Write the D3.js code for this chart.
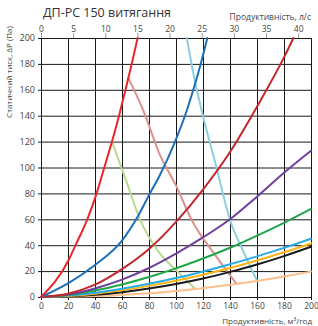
<!DOCTYPE html>
<html>
<head>
<meta charset="utf-8">
<script src="https://cdn.jsdelivr.net/npm/d3@7"></script>
<style>
  body { margin: 0; background: #fff; }
  text { font-family: "Open Sans", "Noto Sans", sans-serif; fill: #333; }
</style>
</head>
<body>
<svg width="318" height="326"></svg>
<script>
// flow in m³/h, pressure in Pa
const xTicks = [0, 20, 40, 60, 80, 100, 120, 140, 160, 180, 200]
const yTicks = [0, 20, 40, 60, 80, 100, 120, 140, 160, 180, 200]
const topTicks = [0, 5, 10, 15, 20, 25, 30, 35, 40]

// system curves
const redLine = [[0, 0], [20.5, 28.6], [25.6, 40], [34.3, 60], [41.2, 80], [46.9, 100], [52.6, 120], [57.8, 140], [62.6, 160], [67.2, 180], [71.6, 200]]
const blueLine = [[0, 0], [20, 10.5], [40, 24.7], [60, 43.5], [70.5, 60], [80.7, 80], [88, 94], [99.3, 120], [108, 144], [112.8, 160], [118.3, 180], [123.2, 200]]
const darkRedLine = [[0, 0], [20, 2.5], [40, 9.5], [60, 21.5], [80, 37], [100, 58], [120, 83], [140, 112], [160, 147], [180, 185], [187, 200]]
const purpleLine = [[0, 0], [20, 1.9], [40, 6.6], [60, 13.4], [80, 22.4], [100, 33.5], [120, 46], [140, 60], [160, 77.5], [180, 96], [200, 113]]
const greenLine = [[0, 0], [20, 1.6], [40, 5], [60, 9.7], [80, 15.4], [100, 22.1], [120, 29.7], [140, 38], [160, 47.4], [180, 57.3], [200, 68]]
const cyanLine = [[0, 0], [20, 1.1], [40, 3.3], [60, 6.4], [80, 10.2], [100, 14.6], [120, 19.7], [140, 25.3], [160, 31.4], [180, 37.9], [200, 45]]
const yellowLine = [[0, 0], [20, 0.8], [40, 2.6], [60, 5.2], [80, 8.6], [100, 12.6], [120, 17.2], [140, 22.4], [160, 28.2], [180, 34.5], [200, 41.4]]
const blackLine = [[0, 0], [20, 0.4], [40, 1.7], [60, 3.7], [80, 6.5], [100, 10], [120, 14.3], [140, 19.4], [160, 25.1], [180, 31.6], [200, 38.8]]
const peachLine = [[0, 0], [20, 0.2], [40, 0.7], [60, 1.6], [80, 2.9], [100, 4.7], [120, 6.8], [140, 9.4], [160, 12.4], [180, 15.8], [200, 19.6]]

// fan curves
const lightGreenFan = [[52.6, 120], [63, 90], [73.3, 60], [88, 33.7], [100, 20.8], [114, 6.5]]
const pinkFan = [[64.7, 169], [75.8, 144], [88, 110], [100, 86], [111.6, 59.5], [130, 31], [145, 10]]
const lightBlueFan = [[108, 200], [113, 172], [119, 144], [130, 100], [140, 59.5], [150, 35], [159.8, 13]]

const series = [
  { data: lightGreenFan, color: '#bcd88f' },
  { data: pinkFan, color: '#dd918b' },
  { data: lightBlueFan, color: '#8ccfe0' },
  { data: peachLine, color: '#fbbf8c' },
  { data: blackLine, color: '#1a1a1a' },
  { data: yellowLine, color: '#fbb417' },
  { data: cyanLine, color: '#2aabe4' },
  { data: greenLine, color: '#1fa64a' },
  { data: purpleLine, color: '#6f3f9a' },
  { data: darkRedLine, color: '#c1272d' },
  { data: blueLine, color: '#1b70b8' },
  { data: redLine, color: '#e8262b' }
]

const svg = d3.select('svg')

const xScale = d3.scaleLinear().domain([0, 200]).range([41, 311])
const yScale = d3.scaleLinear().domain([0, 200]).range([297, 38])
const topScale = d3.scaleLinear().domain([0, 42]).range([41, 311])

const g = svg.append('g')

// grid
g.append('g').selectAll('line')
  .data(xTicks)
  .join('line')
  .attr('x1', d => xScale(d) + 0.5)
  .attr('x2', d => xScale(d) + 0.5)
  .attr('y1', yScale(200))
  .attr('y2', yScale(0) + 3)
  .attr('stroke', '#1a1a1a')
  .attr('stroke-width', 1)

g.append('g').selectAll('line')
  .data(yTicks)
  .join('line')
  .attr('y1', d => yScale(d) + 0.5)
  .attr('y2', d => yScale(d) + 0.5)
  .attr('x1', xScale(0) - 3)
  .attr('x2', xScale(200))
  .attr('stroke', '#1a1a1a')
  .attr('stroke-width', 1)

// bottom axis
const xAxis = d3.axisBottom(xScale).tickValues(xTicks).tickSize(0).tickPadding(6)
const xAxisGroup = g.append('g').call(xAxis)
  .attr('transform', `translate(0, ${yScale(0)})`)
xAxisGroup.select('.domain').remove()
xAxisGroup.selectAll('text')
  .style('font-size', '8.5px')
  .style('fill', '#444')
  .style('font-family', '"Open Sans", sans-serif')

// left axis
const yAxis = d3.axisLeft(yScale).tickValues(yTicks).tickSize(0).tickPadding(6)
const yAxisGroup = g.append('g').call(yAxis)
  .attr('transform', `translate(${xScale(0)}, 0)`)
yAxisGroup.select('.domain').remove()
yAxisGroup.selectAll('text')
  .style('font-size', '9px')
  .style('fill', '#444')
  .style('font-family', '"Open Sans", sans-serif')

// top axis in l/s
const topAxis = d3.axisTop(topScale).tickValues(topTicks).tickSize(5).tickPadding(1)
const topAxisGroup = g.append('g').call(topAxis)
  .attr('transform', `translate(0, ${yScale(200)})`)
topAxisGroup.select('.domain').remove()
topAxisGroup.selectAll('line').attr('stroke', '#999')
topAxisGroup.selectAll('text')
  .style('font-size', '8.5px')
  .style('fill', '#444')
  .style('font-family', '"Open Sans", sans-serif')

// curves
const lineGenerator = d3.line()
  .x(d => xScale(d[0]))
  .y(d => yScale(d[1]))
  .curve(d3.curveMonotoneX)

g.append('g').selectAll('path')
  .data(series)
  .join('path')
  .attr('d', d => lineGenerator(d.data))
  .attr('fill', 'none')
  .attr('stroke', d => d.color)
  .attr('stroke-width', 2)
  .attr('stroke-linecap', 'round')

// titles
svg.append('text')
  .attr('x', 43)
  .attr('y', 17)
  .style('font-size', '12.5px')
  .text('ДП-РС 150 витягання')

svg.append('text')
  .attr('x', 311)
  .attr('y', 20)
  .attr('text-anchor', 'end')
  .style('font-size', '8.5px')
  .style('fill', '#444')
  .text('Продуктивність, л/с')

svg.append('text')
  .attr('x', 312)
  .attr('y', 323.5)
  .attr('text-anchor', 'end')
  .style('font-size', '8px')
  .style('fill', '#444')
  .text('Продуктивність, м³/год')

svg.append('text')
  .attr('transform', 'translate(12, 72) rotate(-90)')
  .attr('text-anchor', 'middle')
  .style('font-size', '8px')
  .style('fill', '#444')
  .text('Статичний тиск, ΔP (Па)')
</script>
</body>
</html>
